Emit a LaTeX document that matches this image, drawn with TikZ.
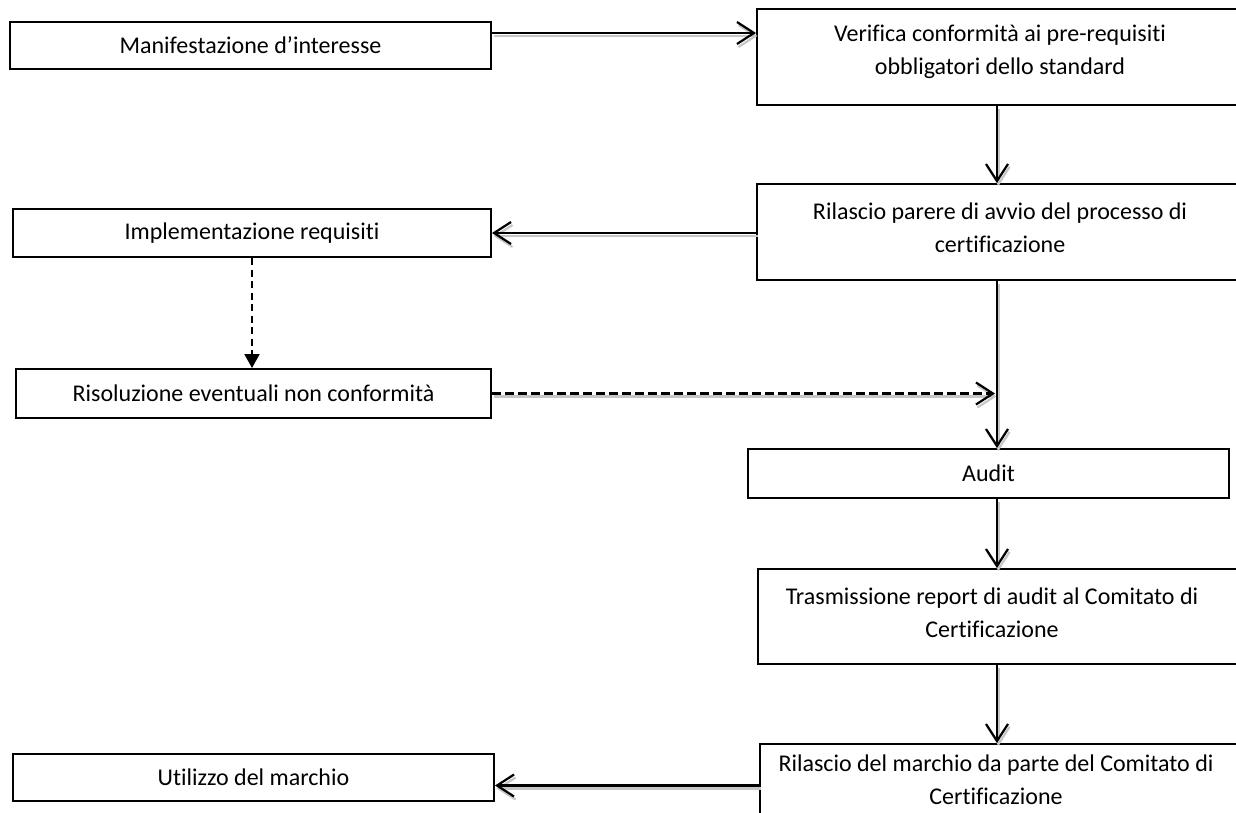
\documentclass[tikz,border=0pt]{standalone}
\usepackage{fontspec}
\setmainfont{Carlito}[Ligatures=CommonOff]
\usetikzlibrary{arrows.meta}
\begin{document}
\begin{tikzpicture}[x=1pt,y=-1pt,
  box/.style={draw, line width=2pt, inner sep=0pt, anchor=north west},
  txt/.style={font=\fontsize{24}{33}\selectfont, align=center, inner sep=0pt},
  barb/.style={-{Straight Barb[length=17pt,width=22pt,line width=2.2pt]}},
  shadowed/.style={preaction={draw=gray!45, line width=2.2pt, transform canvas={shift={(1.5pt,-3pt)}}}},
  conn/.style={line width=2.2pt, barb, shadowed},
  dconn/.style={line width=2pt, dash pattern=on 7pt off 4.5pt, -{Triangle[length=14pt,width=15pt]}},
  dhconn/.style={line width=2.2pt, dash pattern=on 9pt off 4pt, barb, shadowed}
]
\useasboundingbox (0,0) rectangle (1236,812);
\clip (0,0) rectangle (1236,812);

% boxes
\node[box, minimum width=481pt, minimum height=47pt] (b1) at (9,21) {};
\node[box, minimum width=488pt, minimum height=96pt] (b2) at (756,8) {};
\node[box, minimum width=488pt, minimum height=96pt] (b3) at (756,183) {};
\node[box, minimum width=478pt, minimum height=48pt] (b4) at (12,208) {};
\node[box, minimum width=475pt, minimum height=49pt] (b5) at (15,368) {};
\node[box, minimum width=481pt, minimum height=49pt] (audit) at (747,448) {};
\node[box, minimum width=483pt, minimum height=95pt] (b7) at (757,568) {};
\node[box, minimum width=485pt, minimum height=100pt] (b8) at (759,743) {};
\node[box, minimum width=481pt, minimum height=47pt] (b9) at (12,753) {};

% texts
\node[txt] (t1) at (b1.center) {Manifestazione d’interesse};
\node[txt] (t2) at (1000,52) {Verifica conformità ai pre-requisiti\\obbligatori dello standard};
\node[txt] (t3) at (1000,228) {Rilascio parere di avvio del processo di\\certificazione};
\node[txt] (t4) at (b4.center) {Implementazione requisiti};
\node[txt] (t5) at (b5.center) {Risoluzione eventuali non conformità};
\node[txt] (t6) at (audit.center) {Audit};
\node[txt] (t7) at (992,613) {Trasmissione report di audit al Comitato di\\Certificazione};
\node[txt] (t8) at (996,780) {Rilascio del marchio da parte del Comitato di\\Certificazione};
\node[txt] (t9) at (b9.center) {Utilizzo del marchio};

% connectors
\coordinate (s) at (997,0);
\coordinate (a1) at ([yshift=-12pt]b1.north east);
\draw[conn] (a1) -- (a1 -| b2.west);
\draw[conn] (s |- b2.south) -- (s |- b3.north);
\draw[conn] (b3.west |- b4.east) -- (b4.east);
\draw[dconn] (b4.south) -- (b4.south |- b5.north);
\draw[dhconn] (b5.east) -- ([xshift=-2pt]b5.east -| s);
\draw[conn] (s |- b3.south) -- (s |- audit.north);
\draw[conn] (s |- audit.south) -- (s |- b7.north);
\draw[conn] (s |- b7.south) -- (s |- b8.north);
\coordinate (a9) at ([yshift=-8pt]b9.east);
\draw[conn] (b8.west |- a9) -- (a9);
\end{tikzpicture}
\end{document}
